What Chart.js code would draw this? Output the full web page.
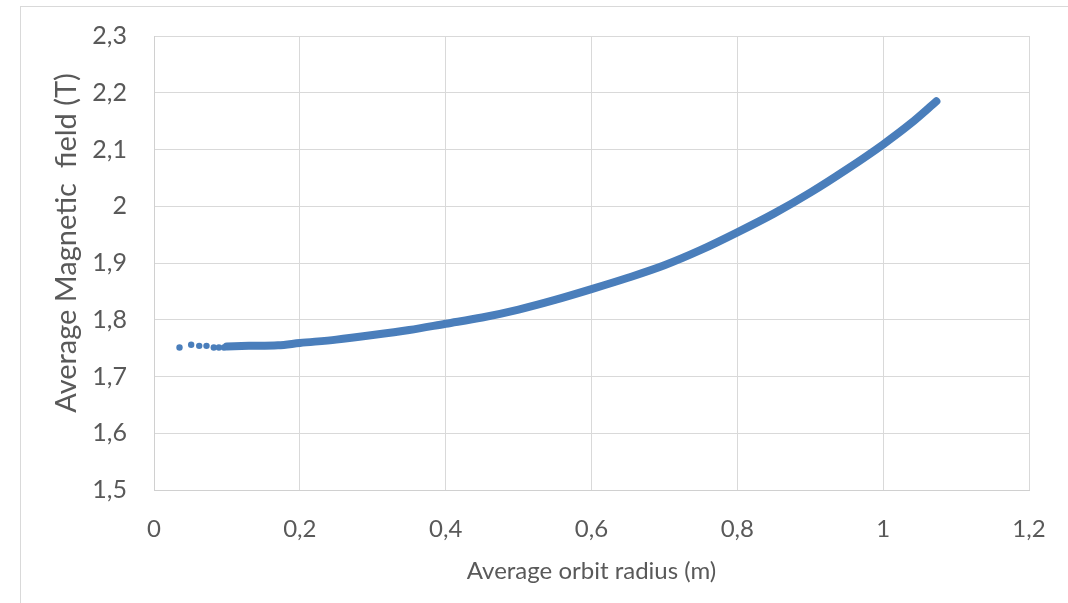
<!DOCTYPE html>
<html>
<head>
<meta charset="utf-8">
<script src="https://cdn.jsdelivr.net/npm/chart.js@4"></script>
<style>
  html, body { margin: 0; padding: 0; background: #fff; }
  canvas { display: block; }
</style>
</head>
<body>
<canvas id="fieldChart" width="1068" height="603"></canvas>
<script>
// first few scattered points (radius in m, field in T)
const startRadius = [0.035, 0.051, 0.062, 0.072, 0.082, 0.089, 0.096];
const startField = [1.751, 1.756, 1.754, 1.754, 1.751, 1.751, 1.751];

// dense part of the curve
const bandRadius = [0.100, 0.130, 0.170, 0.200, 0.250, 0.300, 0.350, 0.400, 0.450, 0.500, 0.550, 0.600, 0.650, 0.700, 0.750, 0.800, 0.850, 0.900, 0.950, 1.000, 1.037, 1.073];
const bandField = [1.753, 1.754, 1.755, 1.759, 1.765, 1.773, 1.782, 1.793, 1.804, 1.818, 1.835, 1.854, 1.874, 1.896, 1.923, 1.954, 1.987, 2.024, 2.065, 2.109, 2.145, 2.185];

const xTickLabels = ["0", "0,2", "0,4", "0,6", "0,8", "1", "1,2"];
const yTickLabels = ["1,5", "1,6", "1,7", "1,8", "1,9", "2", "2,1", "2,2", "2,3"];

const blue = "#4a7ebb";
const textColor = "#595959";
const gridColor = "#d9d9d9";
const fontFamily = "Lato, 'Open Sans', sans-serif";

function toPoints(xs, ys) {
  return xs.map((x, i) => ({ x: x, y: ys[i] }));
}

// outer chart frame like the spreadsheet export
const frame = {
  id: "frame",
  beforeDraw(chart) {
    const ctx = chart.ctx;
    ctx.save();
    ctx.fillStyle = "#fff";
    ctx.fillRect(0, 0, chart.width, chart.height);
    ctx.strokeStyle = gridColor;
    ctx.lineWidth = 1;
    ctx.strokeRect(20.5, 6.5, 1200, 800);
    ctx.restore();
  }
};

// y title sits a bit above the plot centre in the reference
const yTitle = {
  id: "yTitle",
  afterDraw(chart) {
    const ctx = chart.ctx;
    ctx.save();
    ctx.translate(67, 243);
    ctx.rotate(-Math.PI / 2);
    ctx.font = "29px " + fontFamily;
    ctx.fillStyle = textColor;
    ctx.textAlign = "center";
    ctx.textBaseline = "middle";
    ctx.fillText("Average Magnetic  field (T)", 0, 0);
    ctx.restore();
  }
};

new Chart(document.getElementById("fieldChart"), {
  type: "scatter",
  data: {
    datasets: [
      {
        label: "start",
        data: toPoints(startRadius, startField),
        backgroundColor: blue,
        borderColor: blue,
        pointRadius: 3.2,
        pointBorderWidth: 0
      },
      {
        label: "band",
        data: toPoints(bandRadius, bandField),
        showLine: true,
        cubicInterpolationMode: "monotone",
        borderColor: blue,
        backgroundColor: blue,
        borderWidth: 8,
        borderCapStyle: "round",
        pointRadius: 0
      }
    ]
  },
  options: {
    responsive: false,
    animation: false,
    layout: {
      padding: { top: 36, right: 39, left: 0, bottom: 0 }
    },
    plugins: {
      legend: { display: false },
      tooltip: { enabled: false }
    },
    scales: {
      x: {
        type: "linear",
        min: 0,
        max: 1.2,
        afterFit: (scale) => {
          scale.height = 113;
          scale.paddingLeft = 0;
          scale.paddingRight = 0;
        },
        ticks: {
          stepSize: 0.2,
          padding: 25,
          color: textColor,
          font: { family: fontFamily, size: 24 },
          maxRotation: 0,
          callback: (value, index) => xTickLabels[index]
        },
        grid: { color: gridColor, drawTicks: false },
        border: { color: "#d0d0d0" },
        title: {
          display: true,
          text: "Average orbit radius (m)",
          color: textColor,
          font: { family: fontFamily, size: 24 },
          padding: { top: 0, bottom: 17 }
        }
      },
      y: {
        type: "linear",
        min: 1.5,
        max: 2.3,
        afterFit: (scale) => {
          scale.width = 154;
          scale.paddingTop = 0;
          scale.paddingBottom = 0;
        },
        ticks: {
          stepSize: 0.1,
          padding: 27,
          color: textColor,
          font: { family: fontFamily, size: 25 },
          callback: (value, index) => yTickLabels[index]
        },
        grid: { color: gridColor, drawTicks: false },
        border: { color: "#d0d0d0" }
      }
    }
  },
  plugins: [frame, yTitle]
});
</script>
</body>
</html>
